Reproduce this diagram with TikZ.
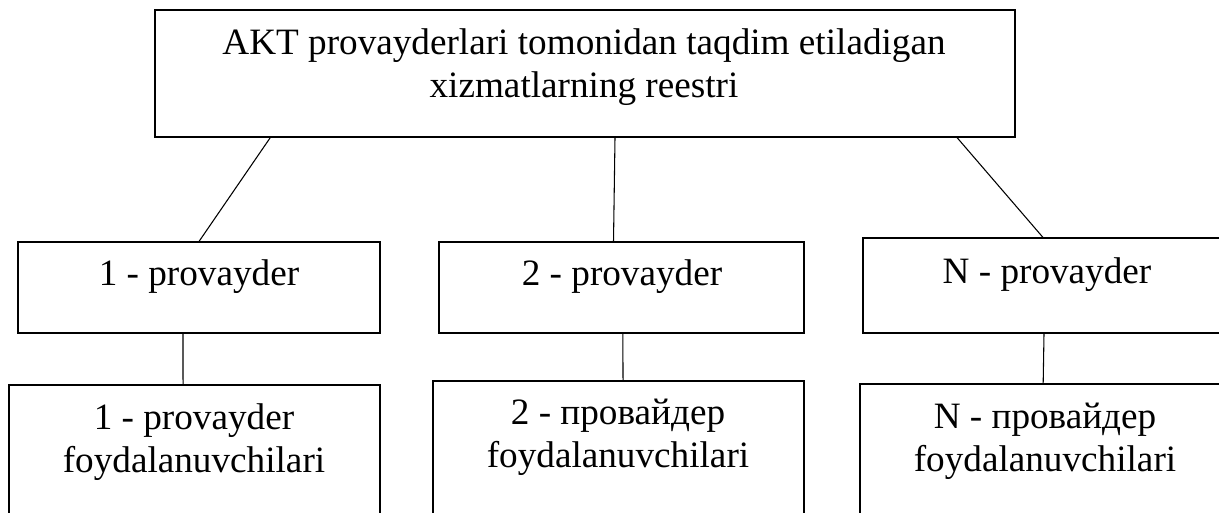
\documentclass[tikz,border=0pt]{standalone}
\usepackage{fontspec}
\setmainfont{Liberation Serif}
\newdimen\unitsize
\setlength{\unitsize}{0.75pt}
\begin{document}
\begin{tikzpicture}[x=\unitsize,y=-\unitsize]
\tikzset{box/.style={draw, line width=0.8pt, inner sep=0pt}}%
\tikzset{txt/.style={font=\fontsize{27.9pt}{32pt}\selectfont, align=center, anchor=base, inner sep=0pt}}%
\tikzset{edge/.style={line width=0.8pt}}%
\useasboundingbox (0,0) rectangle (1219,512);
\clip (0,0) rectangle (1219,512);
% boxes
\node[box, minimum width=860*\unitsize, minimum height=127*\unitsize] (reestr) at (585,73.5) {};
\node[box, minimum width=362*\unitsize, minimum height=91*\unitsize] (p1) at (199,287.5) {};
\node[box, minimum width=365*\unitsize, minimum height=91*\unitsize] (p2) at (621.5,287.5) {};
\node[box, minimum width=362*\unitsize, minimum height=95*\unitsize] (pN) at (1044,285.5) {};
\node[box, minimum width=371*\unitsize, minimum height=155*\unitsize] (u1) at (194.5,462.5) {};
\node[box, minimum width=371*\unitsize, minimum height=159*\unitsize] (u2) at (618.5,460.5) {};
\node[box, minimum width=369*\unitsize, minimum height=156*\unitsize] (uN) at (1044.5,462) {};
% texts (base = last line)
\node[txt] (reestrtxt) at (584,97) {AKT provayderlari tomonidan taqdim etiladigan\\xizmatlarning reestri};
\node[txt] (p1txt) at (199,285) {1 - provayder};
\node[txt] (p2txt) at (622,285) {2 - provayder};
\node[txt] (pNtxt) at (1047,283) {N - provayder};
\node[txt] (u1txt) at (194,472) {1 - provayder\\foydalanuvchilari};
\node[txt] (u2txt) at (618,467) {2 - провайдер\\foydalanuvchilari};
\node[txt] (uNtxt) at (1045,471) {N - провайдер\\foydalanuvchilari};
% connectors
\draw[edge] ([xshift=-236pt]reestr.south) -- (p1.north);
\draw[edge] ([xshift=22.5pt]reestr.south) -- ([xshift=-6pt]p2.north);
\draw[edge] ([xshift=279pt]reestr.south) -- ([xshift=-0.75pt]pN.north);
\draw[edge] ([xshift=-12pt]p1.south) -- ([xshift=-8.6pt]u1.north);
\draw[edge] ([xshift=1pt]p2.south) -- ([xshift=3.4pt]u2.north);
\draw[edge] (pN.south) -- ([xshift=-1pt]uN.north);
\end{tikzpicture}
\end{document}
